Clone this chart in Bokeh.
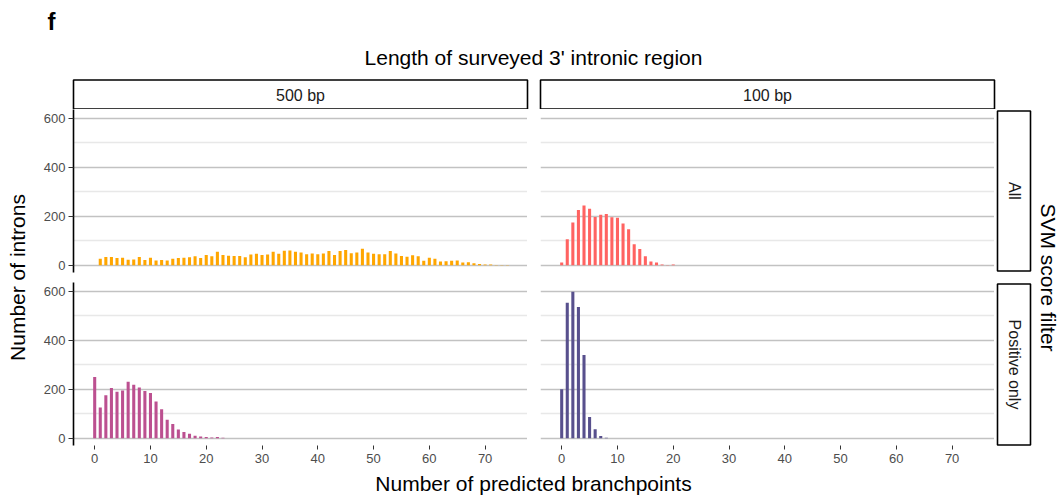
import math
from bokeh.plotting import figure
from bokeh.layouts import column, row
from bokeh.models import Range1d, FixedTicker
from bokeh.core.properties import value
from bokeh.embed import file_html
from bokeh.resources import INLINE

# ---------------- data ----------------
tl_x = list(range(1, 75))
tl_y = [26, 33, 33, 29, 30, 22, 23, 33, 21, 30, 19, 21, 19, 26, 29, 30, 32, 36, 29, 41,
        36, 55, 42, 38, 37, 37, 32, 44, 47, 41, 44, 55, 47, 59, 60, 55, 52, 45, 48, 45,
        48, 58, 41, 58, 62, 49, 52, 67, 52, 47, 45, 45, 58, 48, 37, 34, 40, 36, 18, 30,
        26, 15, 16, 18, 19, 11, 12, 8, 5, 3, 3, 1, 1, 1]
tr_x = list(range(0, 21))
tr_y = [11, 106, 174, 225, 244, 230, 197, 206, 209, 196, 194, 170, 147, 85, 66, 36, 15, 11, 3, 1, 3]
bl_x = list(range(0, 24))
bl_y = [250, 125, 175, 205, 190, 195, 230, 218, 207, 193, 185, 150, 118, 75, 58, 35, 25, 18, 10, 7, 5, 3, 5, 2]
br_x = list(range(0, 9))
br_y = [200, 553, 598, 536, 340, 86, 36, 9, 2]

colors = {"tl": "#ffa600", "tr": "#ff6361", "bl": "#bc5090", "br": "#58508d"}
col_labels = ["500 bp", "100 bp"]
row_labels = ["All", "Positive only"]
y_ticks = [0, 200, 400, 600]
y_minor = [100, 300, 500]
x_ticks = [0, 10, 20, 30, 40, 50, 60, 70]
panel_label = "f"
top_title = "Length of surveyed 3' intronic region"
right_title = "SVM score filter"
x_title = "Number of predicted branchpoints"
y_title = "Number of introns"

FONT = value("Liberation Sans")
XR = (-3.8, 77.6)
YR = (-30, 636)
TITLE_SIZE = "21px"
STRIP_SIZE = "16px"


def blank(w, h, xr, yr):
    f = figure(width=w, height=h, x_range=Range1d(*xr), y_range=Range1d(*yr),
               output_backend="svg", toolbar_location=None, title=None,
               x_axis_location=None, y_axis_location=None,
               min_border=0, min_border_left=0, min_border_right=0,
               min_border_top=0, min_border_bottom=0, outline_line_color=None)
    f.xgrid.visible = False
    f.ygrid.visible = False
    return f


def panel(xs, ys, color, w, left_border, bottom_border, show_y, show_x):
    h = 163 + bottom_border
    f = figure(width=w, height=h, x_range=Range1d(*XR), y_range=Range1d(*YR),
               output_backend="svg", toolbar_location=None, title=None,
               min_border_left=left_border, min_border_right=0,
               min_border_top=0, min_border_bottom=bottom_border,
               outline_line_color=None)
    f.xgrid.visible = False
    f.ygrid.ticker = FixedTicker(ticks=y_ticks, minor_ticks=y_minor)
    f.ygrid.grid_line_color = "#c2c2c2"
    f.ygrid.grid_line_width = 1.6
    f.ygrid.minor_grid_line_color = "#e8e8e8"
    f.ygrid.minor_grid_line_width = 1.6
    f.vbar(x=xs, top=ys, width=0.55, bottom=0, fill_color=color, line_color=None)
    if show_y:
        ax = f.yaxis[0]
        ax.ticker = FixedTicker(ticks=y_ticks)
        ax.axis_line_color = "black"
        ax.axis_line_width = 1.6
        ax.major_tick_line_color = "#333333"
        ax.major_tick_out = 5
        ax.major_tick_in = 0
        ax.minor_tick_line_color = None
        ax.major_label_text_font = "Liberation Sans"
        ax.major_label_text_font_size = "13px"
        ax.major_label_text_color = "#4d4d4d"
        ax.major_label_standoff = 3
    else:
        f.yaxis.visible = False
    if show_x:
        ax = f.xaxis[0]
        ax.ticker = FixedTicker(ticks=x_ticks)
        ax.axis_line_color = None
        ax.major_tick_line_color = "#333333"
        ax.major_tick_out = 4
        ax.major_tick_in = 0
        ax.minor_tick_line_color = None
        ax.major_label_text_font = "Liberation Sans"
        ax.major_label_text_font_size = "13px"
        ax.major_label_text_color = "#4d4d4d"
        ax.major_label_standoff = 4
    else:
        f.xaxis.visible = False
    return f


# header with panel letter, title and column strips
header = blank(1060, 109, (0, 1060), (109, 0))
header.text(x=[51], y=[21], text=[panel_label], text_font=FONT, text_font_size="24px",
            text_font_style="bold", text_align="center", text_baseline="middle", text_color="black")
header.text(x=[533], y=[57], text=[top_title], text_font=FONT, text_font_size=TITLE_SIZE,
            text_align="center", text_baseline="middle", text_color="black")
header.quad(left=[73, 540], right=[527, 994], top=[79.5, 79.5], bottom=[108.5, 108.5],
            fill_color="white", line_color="black", line_width=1.6)
header.text(x=[300, 767], y=[95, 95], text=col_labels, text_font=FONT, text_font_size=STRIP_SIZE,
            text_align="center", text_baseline="middle", text_color="#1a1a1a")

tl = panel(tl_x, tl_y, colors["tl"], 497, 43, 10, True, False)
bl = panel(bl_x, bl_y, colors["bl"], 497, 43, 26, True, True)
tr = panel(tr_x, tr_y, colors["tr"], 467, 13, 10, False, False)
br = panel(br_x, br_y, colors["br"], 467, 13, 26, False, True)

ylab = blank(30, 362, (0, 30), (362, 0))
ylab.text(x=[17], y=[168], text=[y_title], text_font=FONT, text_font_size=TITLE_SIZE,
          text_align="center", text_baseline="middle", angle=math.pi / 2, text_color="black")

strips = blank(66, 362, (0, 66), (362, 0))
strips.quad(left=[3, 3], right=[36, 36], top=[1.5, 174.5], bottom=[161.5, 335.5],
            fill_color="white", line_color="black", line_width=1.6)
strips.text(x=[19.5, 19.5], y=[81.5, 255], text=row_labels, text_font=FONT, text_font_size=STRIP_SIZE,
            text_align="center", text_baseline="middle", angle=-math.pi / 2, text_color="#1a1a1a")
strips.text(x=[54], y=[168], text=[right_title], text_font=FONT, text_font_size=TITLE_SIZE,
            text_align="center", text_baseline="middle", angle=-math.pi / 2, text_color="black")

footer = blank(1060, 27, (0, 1060), (27, 0))
footer.text(x=[533], y=[12], text=[x_title], text_font=FONT, text_font_size=TITLE_SIZE,
            text_align="center", text_baseline="middle", text_color="black")

layout = column(header,
                row(ylab, column(tl, bl, spacing=0), column(tr, br, spacing=0), strips, spacing=0),
                footer, spacing=0)

open("out.html", "w").write(file_html(layout, INLINE))
